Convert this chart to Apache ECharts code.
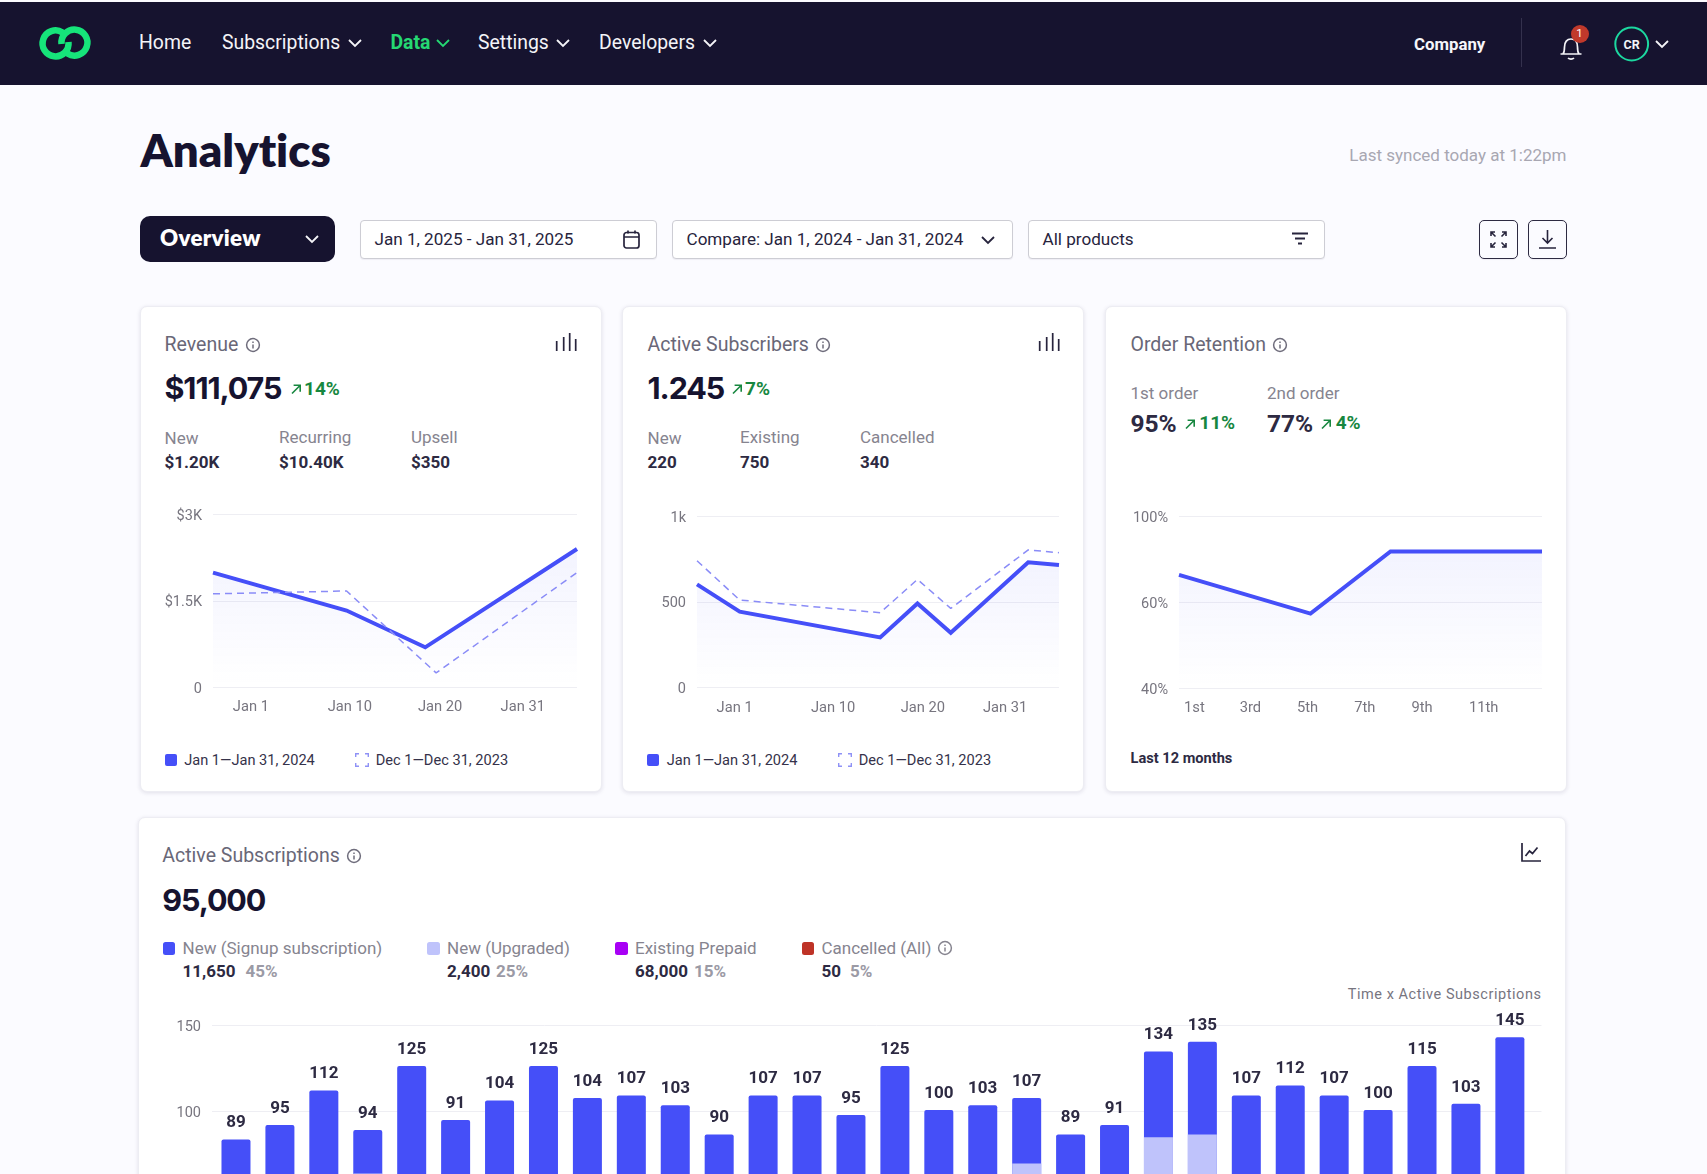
<!DOCTYPE html>
<html>
<head>
<meta charset="utf-8">
<title>Analytics</title>
<script src="https://cdn.jsdelivr.net/npm/echarts@6/dist/echarts.min.js"></script>
<style>
  html, body { margin: 0; padding: 0; background: #fbfbff; }
  #page { position: relative; width: 1707px; height: 1174px; overflow: hidden; font-family: Roboto, sans-serif; background: #fbfbff; }
  .box { position: absolute; box-sizing: border-box; }
  .t { position: absolute; white-space: nowrap; transform: translateY(-50%); line-height: 1.2; }
  .r { transform: translate(-100%, -50%); }
  .card { background: #fff; border: 1px solid #ededf3; border-radius: 7px; box-shadow: 0 1px 4px rgba(30, 25, 70, .12); }
  .field { background: #fff; border: 1px solid #cdcdd4; border-radius: 4px; box-shadow: 0 1px 1px rgba(30, 25, 70, .06); }
  .nav { font-size: 19.4px; color: #f4f4f8; }
  .title { font-size: 19.5px; color: #696777; }
  .big { font-family: Inter, sans-serif; font-weight: 700; font-size: 30.5px; color: #16132f; letter-spacing: -1.1px; }
  .mid { font-weight: 700; font-size: 24.5px; color: #2d2a42; }
  .up { font-weight: 700; font-size: 19px; color: #17873f; }
  .sub { font-size: 17px; color: #86848f; }
  .val { font-size: 17px; font-weight: 700; color: #2d2a42; }
  .leg { font-size: 14.6px; color: #35324a; }
  .pct { font-size: 17px; font-weight: 700; color: #9b9aa5; }
  .chart { position: absolute; }
  svg { position: absolute; overflow: visible; }
</style>
</head>
<body>
<div id="page"></div>
<script>
// ---- chart values ----
const revenuePeriod = [0, 36.7, 58.3, 100];
const revenueValues = [1990, 1330, 690, 2400];
const revenuePrevPeriod = [0, 36.7, 61.3, 100];
const revenuePrevValues = [1620, 1670, 245, 1990];
const revenueYTicks = [0, 1500, 3000];
const revenueYLabels = ['0', '$1.5K', '$3K'];

const subscribersPeriod = [0, 11.8, 50.6, 60.9, 70.1, 91.5, 100];
const subscribersValues = [601, 442, 292, 490, 319, 730, 714];
const subscribersPrevValues = [739, 510, 436, 630, 461, 802, 786];
const subscribersYTicks = [0, 500, 1000];
const subscribersYLabels = ['0', '500', '1k'];

const periodTicks = [10.4, 37.6, 62.4, 85.1];
const periodLabels = ['Jan 1', 'Jan 10', 'Jan 20', 'Jan 31'];

const retentionMonths = [0.5, 5.1, 7.9, 13.2];
const retentionValues = [72.6, 57.3, 83.5, 83.5];
const retentionYLabels = ['40%', '60%', '100%'];
const monthTicks = [1.04, 3, 5, 7, 9, 11.16];
const monthLabels = ['1st', '3rd', '5th', '7th', '9th', '11th'];

const subsDays = [1, 2, 3, 4, 5, 6, 7, 8, 9, 10, 11, 12, 13, 14, 15, 16, 17, 18, 19, 20, 21, 22, 23, 24, 25, 26, 27, 28, 29, 30];
const subsLabels = [89, 95, 112, 94, 125, 91, 104, 125, 104, 107, 103, 90, 107, 107, 95, 125, 100, 103, 107, 89, 91, 134, 135, 107, 112, 107, 100, 115, 103, 145];
const subsHeights = [83.7, 92.2, 112.2, 89.3, 126.4, 95, 106.4, 126.4, 107.8, 109.3, 103.7, 86.6, 109.3, 109.3, 97.9, 126.4, 100.8, 103.7, 107.9, 86.6, 92.2, 134.9, 140.5, 109.3, 115.1, 109.3, 100.8, 126.4, 104.5, 143.2];
const subsUpgraded = [0, 0, 0, 64, 0, 0, 0, 0, 0, 0, 0, 0, 0, 0, 0, 0, 0, 0, 69.8, 0, 0, 85.1, 86.6, 0, 0, 0, 0, 0, 0, 0];

const BLUE = '#454ff8';
const LIGHT = '#bfc3fb';
const GREY = '#77757f';

// ---- page furniture ----
const page = document.getElementById('page');

function box(x, y, w, h, cls, css) {
  const el = document.createElement('div');
  el.className = 'box ' + cls;
  el.style.cssText = `left:${x}px;top:${y}px;width:${w}px;height:${h}px;${css || ''}`;
  page.appendChild(el);
  return el;
}
function txt(x, y, str, cls, css) {
  const el = document.createElement('div');
  el.className = 't ' + (cls || '');
  el.style.cssText = `left:${x}px;top:${y}px;${css || ''}`;
  el.textContent = str;
  page.appendChild(el);
  return el;
}
function icon(x, y, w, h, body) {
  const holder = document.createElement('div');
  holder.innerHTML = `<svg style="left:${x}px;top:${y}px" width="${w}" height="${h}" viewBox="0 0 ${w} ${h}" fill="none">${body}</svg>`;
  page.appendChild(holder);
}
function chevron(x, y, color) {
  icon(x, y, 14, 8, `<path d="M1 1l6 6 6-6" stroke="${color}" stroke-width="1.8"/>`);
}
function info(cx, cy, color) {
  icon(cx - 8, cy - 8, 16, 16, `<circle cx="8" cy="8" r="6.4" stroke="${color || '#6f6d7c'}" stroke-width="1.5"/><path d="M8 7.4v4M8 4.6v1.4" stroke="${color || '#6f6d7c'}" stroke-width="1.5"/>`);
}
function arrow(x, y) {
  icon(x, y, 10, 10, `<path d="M1 9.5l8-8M2.6 1.2h6.6v6.6" stroke="#17873f" stroke-width="1.6"/>`);
}
function barsIcon(x, y) {
  icon(x, y, 20, 18, `<path d="M1 8v10M8 4v14M14 0v18M20 6v12" stroke="#27243d" stroke-width="1.7" transform="translate(-.3)"/>`);
}
function legendPair(x, x2, x3, y) {
  box(x, y - 6, 12, 12, '', `background:${BLUE};border-radius:2px`);
  txt(x + 19.5, y + .5, 'Jan 1—Jan 31, 2024', 'leg');
  icon(x2, y - 7, 14, 14, `<path d="M.7 4V.7H4M10 .7h3.3V4M13.3 10v3.3H10M4 13.3H.7V10" stroke="#8f92f6" stroke-width="1.4"/>`);
  txt(x3, y + .5, 'Dec 1—Dec 31, 2023', 'leg');
}

// top bar
box(0, 1.5, 1707, 83, '', 'background:#16132f');
icon(39, 27, 52, 32, `<path d="M23.5 5.4A13 13 0 1 0 29.5 15M28.5 26.6A13 13 0 1 0 22.5 17" stroke="#16e47a" stroke-width="6.5"/>`);
txt(139, 43, 'Home', 'nav');
txt(222, 43, 'Subscriptions', 'nav');
chevron(348, 39, '#f4f4f8');
txt(390.5, 43, 'Data', 'nav', 'color:#25d873;font-weight:700');
chevron(436, 39, '#25d873');
txt(478, 43, 'Settings', 'nav');
chevron(556, 39, '#f4f4f8');
txt(599, 43, 'Developers', 'nav');
chevron(703, 39, '#f4f4f8');
txt(1414, 43.5, 'Company', '', 'font-size:16.8px;font-weight:700;color:#f6f6fa');
box(1521, 18, 1, 49, '', 'background:#34314d');
icon(1559, 33, 24, 27, `<path d="M4 21c1.5-2 1.5-4 1.5-7 0-5 2.5-8 6.5-8s6.5 3 6.5 8c0 3 0 5 1.5 7zM1.5 21h21M9 25c1.5 1.4 4.5 1.4 6 0" stroke="#f4f4f8" stroke-width="1.7"/>`);
box(1570.6, 24.7, 18, 18, '', 'background:#c0392b;border-radius:50%');
txt(1579.6, 33.7, '1', '', 'font-size:11.5px;color:#fff;transform:translate(-50%,-50%)');
icon(1614, 27, 36, 36, `<circle cx="17.7" cy="17" r="16.4" stroke="#1cd8a0" stroke-width="2"/>`);
txt(1631.7, 43.5, 'CR', '', 'font-size:12.5px;font-weight:700;color:#f4f4f8;transform:translate(-50%,-50%)');
chevron(1655, 40, '#f4f4f8');

// heading row
txt(140.5, 150, 'Analytics', '', "font-family:Lato,sans-serif;font-weight:800;font-size:45.5px;font-variant-ligatures:none;color:#16132f");
txt(1566.5, 155, 'Last synced today at 1:22pm', 'r', 'font-size:17px;color:#a8a7b2');

// filter row
box(140, 216, 195, 46, '', 'background:#16132f;border-radius:10px');
txt(160, 238, 'Overview', '', "font-family:Lato,sans-serif;font-weight:800;font-size:22.3px;letter-spacing:.3px;color:#fff");
chevron(304.5, 235, '#f4f4f8');
box(360, 220, 297, 38.5, 'field');
txt(374.5, 239, 'Jan 1, 2025 - Jan 31, 2025', '', 'font-size:17.1px;color:#27243d');
icon(622.5, 230, 17, 19, `<rect x="1" y="2.5" width="15" height="15.5" rx="2.5" stroke="#27243d" stroke-width="1.7"/><path d="M1 7h15M5 .5v3M12 .5v3" stroke="#27243d" stroke-width="1.7"/>`);
box(672, 220, 341, 38.5, 'field');
txt(686.5, 239, 'Compare: Jan 1, 2024 - Jan 31, 2024', '', 'font-size:17.1px;color:#27243d');
chevron(980.5, 235.5, '#27243d');
box(1028, 220, 297, 38.5, 'field');
txt(1042.5, 239, 'All products', '', 'font-size:17.1px;color:#27243d');
icon(1292, 232, 16, 14, `<path d="M0 1.5h16M3 6.5h10M6 11.5h4" stroke="#27243d" stroke-width="1.8"/>`);
box(1479, 220, 38.5, 38.5, 'field', 'border:1.5px solid #2d2a42;border-radius:5px;background:#fbfbff');
icon(1490, 231, 17, 17, `<path d="M1 5V1h4M12 1h4v4M16 12v4h-4M5 16H1v-4M1.5 1.5l4 4M15.5 1.5l-4 4M15.5 15.5l-4-4M1.5 15.5l4-4" stroke="#27243d" stroke-width="1.6"/>`);
box(1528, 220, 38.5, 38.5, 'field', 'border:1.5px solid #2d2a42;border-radius:5px;background:#fbfbff');
icon(1539, 230, 17, 19, `<path d="M8.5 0v12M3.5 8l5 5 5-5M0 18h17" stroke="#27243d" stroke-width="1.6"/>`);

// revenue card
box(140, 306, 462, 485.5, 'card');
txt(164.5, 345, 'Revenue', 'title');
info(252.7, 345);
barsIcon(556, 333);
txt(164.5, 388, '$111,075', 'big');
arrow(290.5, 384);
txt(304, 388.5, '14%', 'up');
txt(164.5, 438, 'New', 'sub');
txt(279, 437, 'Recurring', 'sub');
txt(411, 437, 'Upsell', 'sub');
txt(164.5, 461.5, '$1.20K', 'val');
txt(279, 461.5, '$10.40K', 'val');
txt(411, 461.5, '$350', 'val');
legendPair(164.7, 355, 375.7, 760);

// active subscribers card
box(622, 306, 462, 485.5, 'card');
txt(647.5, 345, 'Active Subscribers', 'title');
info(823, 344.5);
barsIcon(1038.7, 333);
txt(647.5, 388, '1.245', 'big');
arrow(731.5, 384);
txt(745, 388.5, '7%', 'up');
txt(647.5, 438, 'New', 'sub');
txt(740, 437, 'Existing', 'sub');
txt(860, 437, 'Cancelled', 'sub');
txt(647.5, 461.5, '220', 'val');
txt(740, 461.5, '750', 'val');
txt(860, 461.5, '340', 'val');
legendPair(647.3, 838, 858.7, 760);

// order retention card
box(1105, 306, 462, 485.5, 'card');
txt(1130.5, 345, 'Order Retention', 'title');
info(1280.3, 345);
txt(1130.5, 393, '1st order', 'sub');
txt(1267, 393, '2nd order', 'sub');
txt(1130.5, 423.5, '95%', 'mid');
arrow(1185, 418.5);
txt(1199.3, 423, '11%', 'up');
txt(1267, 423.5, '77%', 'mid');
arrow(1320.7, 418.5);
txt(1335.7, 423, '4%', 'up');
txt(1130.5, 759, 'Last 12 months', '', 'font-size:14.6px;font-weight:700;color:#2d2a42');

// active subscriptions card
box(138, 817, 1428, 421, 'card');
txt(162.3, 856, 'Active Subscriptions', 'title');
info(354.4, 856);
icon(1521, 843, 20, 19, `<path d="M1 0v18h19M4.5 13l4-5 3 2.5 5-6" stroke="#27243d" stroke-width="1.7"/>`);
txt(162.3, 900, '95,000', 'big');

box(162.5, 942, 12.5, 12.5, '', `background:${BLUE};border-radius:2.5px`);
txt(182.5, 948, 'New (Signup subscription)', 'sub');
txt(182.5, 971, '11,650', 'val');
txt(245.4, 971, '45%', 'pct');
box(427, 942, 12.5, 12.5, '', `background:${LIGHT};border-radius:2.5px`);
txt(447, 948, 'New (Upgraded)', 'sub');
txt(447, 971, '2,400', 'val');
txt(496, 971, '25%', 'pct');
box(615, 942, 12.5, 12.5, '', 'background:#a800f5;border-radius:2.5px');
txt(635, 948, 'Existing Prepaid', 'sub');
txt(635, 971, '68,000', 'val');
txt(694, 971, '15%', 'pct');
box(801.6, 942, 12.5, 12.5, '', 'background:#be3327;border-radius:2.5px');
txt(821.5, 948, 'Cancelled (All)', 'sub');
txt(821.5, 971, '50', 'val');
txt(850, 971, '5%', 'pct');
info(944.6, 948, '#86848f');
txt(1541.5, 994.5, 'Time x Active Subscriptions', 'r', 'font-size:14.5px;letter-spacing:.55px;color:#77757f');

// ---- charts ----
function makeChart(x, y, w, h) {
  const el = document.createElement('div');
  el.className = 'chart';
  el.style.cssText = `left:${x}px;top:${y}px;width:${w}px;height:${h}px`;
  page.appendChild(el);
  return echarts.init(el);
}
const pairs = (xs, ys) => xs.map((v, i) => [v, ys[i]]);

const fade = {
  type: 'linear', x: 0, y: 0, x2: 0, y2: 1,
  colorStops: [
    { offset: 0, color: 'rgba(69,79,248,0.095)' },
    { offset: 0.9, color: 'rgba(69,79,248,0.008)' },
    { offset: 1, color: 'rgba(69,79,248,0)' },
  ],
};
const mainLine = data => ({
  type: 'line', data, symbol: 'none', silent: true, z: 3,
  lineStyle: { color: BLUE, width: 4, join: 'miter' },
  areaStyle: { color: fade },
});
const prevLine = data => ({
  type: 'line', data, symbol: 'none', silent: true, z: 4,
  lineStyle: { color: '#8a8cf7', width: 1.5, type: [7, 5] },
});

// a short line box hung from the tick drops the text about 2px onto the gridline
const yLabelStyle = { margin: 11, verticalAlign: 'top', lineHeight: 4, fontFamily: 'Roboto', fontSize: 14.5, color: GREY };
const gridLine = { lineStyle: { color: '#eeeef3', width: 1 } };

function lineOption(grid, xAxis, yAxis, series) {
  return {
    animation: false,
    grid,
    xAxis: Object.assign({
      type: 'value',
      axisLine: { show: false },
      axisTick: { show: false },
      splitLine: { show: false },
    }, xAxis),
    yAxis: Object.assign({
      type: 'value',
      axisLine: { show: false },
      axisTick: { show: false },
      splitLine: gridLine,
    }, yAxis),
    series,
  };
}
const tickLabels = (ticks, labels) => ({
  customValues: ticks,
  margin: 13,
  fontFamily: 'Roboto',
  fontSize: 14.7,
  color: GREY,
  formatter: v => labels[ticks.indexOf(v)],
});

const revenueChart = makeChart(141, 490, 460, 250);
revenueChart.setOption(lineOption(
  { left: 72, width: 364, top: 24.5, height: 172.5 },
  { min: 0, max: 100, axisLabel: tickLabels(periodTicks, periodLabels) },
  { min: 0, max: 3000, interval: 1500, axisLabel: Object.assign({ formatter: v => revenueYLabels[revenueYTicks.indexOf(v)] }, yLabelStyle) },
  [mainLine(pairs(revenuePeriod, revenueValues)), prevLine(pairs(revenuePrevPeriod, revenuePrevValues))]
));

const subscribersChart = makeChart(623, 490, 460, 250);
subscribersChart.setOption(lineOption(
  { left: 74, width: 362, top: 26, height: 171.5 },
  { min: 0, max: 100, axisLabel: tickLabels(periodTicks, periodLabels) },
  { min: 0, max: 1000, interval: 500, axisLabel: Object.assign({ formatter: v => subscribersYLabels[subscribersYTicks.indexOf(v)] }, yLabelStyle) },
  [mainLine(pairs(subscribersPeriod, subscribersValues)), prevLine(pairs(subscribersPeriod, subscribersPrevValues))]
));

// the retention axis labels are evenly spaced but not evenly valued: 40 / 60 / 100
const retentionScale = v => (v <= 60 ? (v - 40) / 20 : 1 + (v - 60) / 40);
const retentionChart = makeChart(1106, 490, 460, 250);
retentionChart.setOption(lineOption(
  { left: 73, width: 363, top: 26, height: 172 },
  { min: 0.5, max: 13.2, axisLabel: tickLabels(monthTicks, monthLabels) },
  { min: 0, max: 2, interval: 1, axisLabel: Object.assign({ formatter: v => retentionYLabels[v] }, yLabelStyle) },
  [mainLine(pairs(retentionMonths, retentionValues.map(retentionScale)))]
));

const subsChart = makeChart(139, 1000, 1426, 320);
subsChart.setOption({
  animation: false,
  grid: { left: 73, width: 1329.5, top: 25.5, height: 258 },
  xAxis: { type: 'value', min: 0.454, max: 30.72, show: false },
  yAxis: {
    type: 'value', min: 0, max: 150, interval: 50,
    axisLine: { show: false },
    axisTick: { show: false },
    splitLine: gridLine,
    axisLabel: Object.assign({ formatter: v => String(v) }, yLabelStyle),
  },
  series: [
    {
      // full bar height, the upgraded part is painted over its lower end
      type: 'bar', barWidth: 29, barGap: '-100%', silent: true, z: 2,
      data: pairs(subsDays, subsHeights),
      itemStyle: { color: BLUE, borderRadius: [2, 2, 0, 0] },
      label: {
        show: true, position: 'top', distance: 8,
        fontFamily: 'Roboto', fontWeight: 700, fontSize: 17, color: '#2d2a42',
        formatter: p => String(subsLabels[p.dataIndex]),
      },
    },
    {
      type: 'bar', barWidth: 29, barGap: '-100%', silent: true, z: 3,
      data: pairs(subsDays, subsUpgraded),
      itemStyle: { color: LIGHT },
    },
  ],
});
</script>
</body>
</html>
